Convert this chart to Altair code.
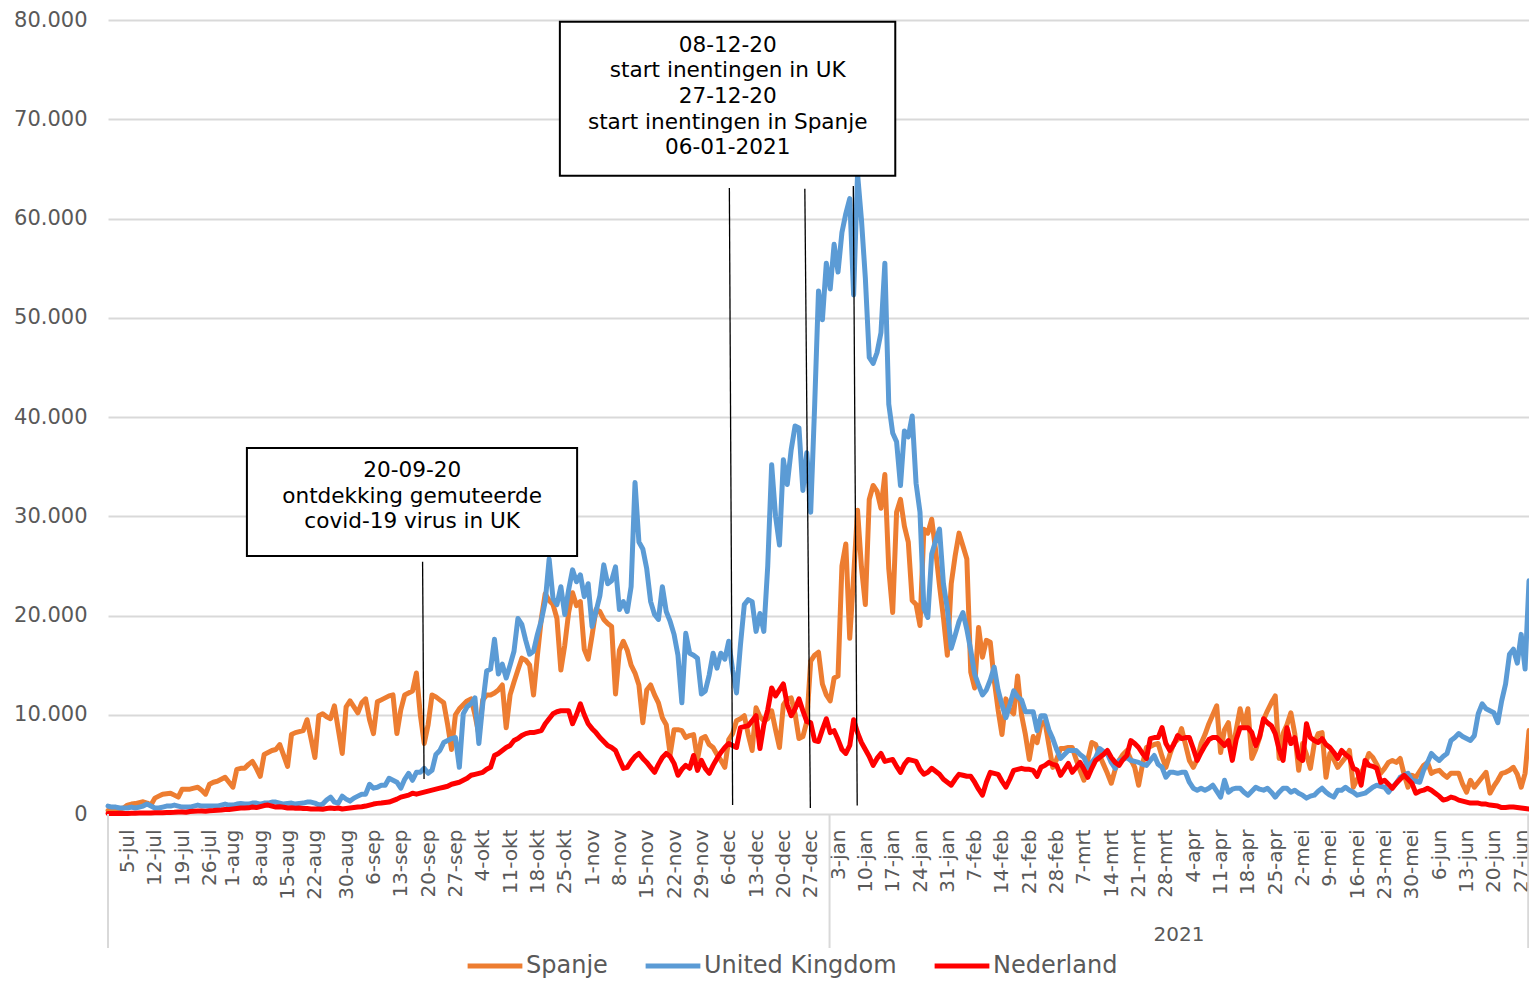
import altair as alt
import pandas as pd

# ---------------- data (daily new cases, in thousands) ----------------
START = "2020-06-30"

spain = [
    0.35, 0.4, 0.45, 0.5, 0.6, 0.9, 1.0, 1.05, 1.15, 1.23,
    1.1, 0.9, 1.6, 1.8, 2.0, 2.05, 2.1, 1.9, 1.7, 2.5,
    2.5, 2.5, 2.6, 2.7, 2.4, 2.0, 3.0, 3.2, 3.3, 3.5,
    3.7, 3.2, 2.7, 4.5, 4.6, 4.6, 5.0, 5.3, 4.6, 3.8,
    6.0, 6.2, 6.4, 6.5, 7.0, 5.9, 4.8, 8.0, 8.2, 8.3,
    8.4, 9.5, 7.6, 5.7, 9.9, 10.1, 9.8, 9.6, 10.9, 8.5,
    6.1, 10.8, 11.4, 10.8, 10.2, 11.2, 11.6, 9.5, 8.1, 11.3,
    11.5, 11.7, 11.9, 12.0, 8.1, 10.5, 12.0, 12.2, 12.4, 14.2,
    10.0, 7.1, 9.0, 12.0, 11.8, 11.5, 11.2, 9.0, 6.5, 10.0,
    10.6, 11.0, 11.4, 11.6, 10.0, 8.0, 11.5, 12.0, 12.0, 12.2,
    12.5, 13.0, 8.7, 12.0, 13.3, 14.5, 15.7, 15.5, 15.0, 12.0,
    16.0, 19.7, 22.2, 21.5, 21.1, 19.7, 14.5, 17.0, 20.3, 22.3,
    21.0, 21.4, 16.6, 15.6, 18.0, 20.6, 20.4, 19.6, 19.2, 18.9,
    12.1, 16.5, 17.4, 16.5, 15.0, 14.2, 13.0, 9.2, 12.5, 13.0,
    12.0, 11.2, 9.7, 9.0, 6.0, 8.5, 8.5, 8.4, 7.7, 7.9,
    8.0, 5.5, 7.6, 7.8, 7.0, 6.7, 6.0, 5.4, 4.7, 7.5,
    8.1, 9.4, 9.6, 9.9, 8.0, 6.4, 10.7, 9.8, 9.4, 9.6,
    10.4, 8.5, 6.7, 11.0, 11.6, 11.7, 10.1, 7.6, 7.8, 9.3,
    15.4, 16.0, 16.3, 13.1, 12.0, 11.4, 13.7, 13.9, 25.0, 27.2,
    17.7, 24.0, 30.6, 24.9, 21.1, 31.7, 33.1, 32.5, 30.8, 34.2,
    24.7, 20.3, 30.4, 31.7, 29.0, 27.4, 21.5, 21.1, 19.0, 28.7,
    28.3, 29.7, 26.6, 23.0, 19.8, 16.0, 23.2, 26.0, 28.3, 27.0,
    25.7, 14.3, 12.7, 18.8, 15.8, 17.5, 17.3, 13.5, 10.5, 8.0,
    11.6, 10.5, 10.1, 13.9, 10.0, 8.0, 5.5, 7.8, 7.2, 9.1,
    9.3, 7.0, 4.7, 5.5, 6.6, 6.6, 6.7, 6.7, 5.5, 4.4,
    3.4, 5.5, 7.2, 7.0, 5.9, 5.0, 4.1, 3.1, 4.5, 5.4,
    6.0, 6.4, 5.5, 4.7, 2.9, 5.0, 6.7, 6.8, 7.0, 7.1,
    5.8, 4.7, 6.0, 7.1, 7.5, 8.6, 7.0, 5.4, 4.7, 5.5,
    7.1, 8.0, 9.1, 10.0, 10.9, 6.2, 8.5, 9.2, 6.2, 8.5,
    10.6, 8.9, 10.6, 5.6, 6.5, 7.7, 9.5, 10.4, 11.2, 11.9,
    5.6, 8.1, 9.0, 10.2, 8.1, 4.4, 7.1, 6.0, 4.6, 7.1,
    8.1, 8.2, 3.7, 6.1, 5.5, 4.7, 5.2, 5.7, 6.4, 2.7,
    3.5, 4.1, 5.0, 6.1, 5.7, 5.0, 4.1, 4.6, 5.2, 5.4,
    5.2, 5.6, 4.0, 2.7, 3.9, 3.7, 4.3, 4.9, 5.2, 4.1,
    4.3, 4.4, 4.0, 3.7, 4.1, 4.1, 4.1, 3.0, 2.2, 3.4,
    2.7, 3.2, 3.7, 4.2, 2.1, 2.8, 3.4, 4.1, 4.2, 4.4,
    4.7, 4.0, 2.7, 4.1, 8.4,
]

uk = [
    0.8, 0.7, 0.7, 0.6, 0.6, 0.6, 0.7, 0.6, 0.7, 0.8,
    1.0, 0.8, 0.6, 0.6, 0.7, 0.8, 0.8, 0.9, 0.8, 0.7,
    0.7, 0.7, 0.8, 0.9, 0.8, 0.8, 0.8, 0.8, 0.8, 0.9,
    1.0, 0.9, 0.9, 1.0, 1.05, 1.0, 1.0, 1.1, 1.1, 1.0,
    1.1, 1.1, 1.2, 1.2, 1.1, 1.0, 1.07, 1.1, 1.0, 1.07,
    1.1, 1.2, 1.2, 1.1, 0.9, 1.0, 1.4, 1.7, 1.2, 1.1,
    1.8, 1.5, 1.3, 1.6, 1.8, 2.0, 2.0, 3.0, 2.6, 2.7,
    2.9, 2.9, 3.6, 3.4, 3.2, 2.6, 3.5, 4.1, 3.4, 4.2,
    4.2, 4.6, 4.1, 4.4, 6.0, 6.4, 7.2, 7.4, 7.6, 7.7,
    4.7, 10.1, 10.8, 11.1, 11.7, 7.1, 11.1, 14.4, 14.6, 17.6,
    14.1, 15.1, 13.7, 15.0, 16.4, 19.7, 19.1, 17.5, 16.1, 16.4,
    18.1, 19.5, 21.4, 25.7, 21.7, 21.1, 22.9, 20.1, 22.6, 24.6,
    23.4, 24.1, 21.9, 23.2, 18.9, 20.4, 22.0, 25.1, 23.2, 23.5,
    24.9, 20.6, 21.4, 20.4, 22.9, 33.4, 27.4, 26.7, 24.7, 21.4,
    20.1, 19.6, 22.9, 20.4, 19.4, 18.1, 16.0, 11.2, 18.2, 16.2,
    16.0, 15.7, 12.1, 12.4, 14.0, 16.2, 14.7, 16.2, 15.6, 17.4,
    14.5, 12.2, 17.0, 21.1, 21.6, 21.4, 18.4, 20.2, 18.4, 25.0,
    35.2, 30.0, 27.1, 35.7, 33.2, 36.7, 39.1, 38.9, 32.6, 36.4,
    30.4, 41.0, 52.7, 49.8, 55.5, 52.9, 57.4, 54.6, 58.6, 60.5,
    62.0, 52.3, 64.5, 59.9, 54.0, 46.0, 45.4, 46.5, 48.5, 55.5,
    41.3, 38.4, 37.5, 33.1, 38.6, 38.0, 40.1, 33.3, 30.4, 20.7,
    19.8, 26.2, 27.5, 28.7, 23.2, 20.7, 16.7, 18.0, 19.4, 20.3,
    18.6, 16.5, 14.1, 13.0, 12.0, 12.5, 13.5, 14.8, 12.5, 11.0,
    9.7, 11.0, 12.4, 11.8, 11.5, 10.3, 10.3, 10.3, 8.4, 9.9,
    9.9, 8.5, 7.6, 6.5, 5.6, 6.0, 6.4, 6.4, 6.4, 6.0,
    5.7, 4.7, 5.2, 5.7, 6.6, 6.3, 6.1, 5.2, 4.6, 5.4,
    5.5, 5.7, 5.4, 5.3, 5.2, 5.0, 4.9, 5.4, 5.9, 5.0,
    4.7, 3.7, 4.2, 4.2, 4.1, 4.2, 4.2, 3.2, 2.6, 2.4,
    2.6, 2.4, 2.6, 2.9, 2.3, 1.7, 3.4, 2.2, 2.5, 2.6,
    2.6, 2.2, 1.9, 2.3, 2.7, 2.5, 2.4, 2.6, 2.2, 1.7,
    2.2, 2.6, 2.6, 2.2, 2.4, 2.1, 1.9, 1.6, 1.8, 1.9,
    2.3, 2.6, 2.2, 1.9, 1.7, 2.4, 2.4, 2.7, 2.4, 2.2,
    1.9, 2.0, 2.1, 2.4, 2.7, 2.9, 2.8, 2.7, 2.2, 2.7,
    3.1, 3.7, 3.9, 4.1, 3.4, 3.3, 3.2, 4.4, 5.2, 6.1,
    5.7, 5.4, 5.8, 6.1, 7.4, 7.7, 8.1, 7.8, 7.6, 7.4,
    7.9, 10.1, 11.1, 10.6, 10.4, 10.2, 9.2, 11.4, 13.1, 16.1,
    16.6, 15.2, 18.1, 14.6, 23.5,
]

nl = [
    0.06, 0.05, 0.06, 0.07, 0.06, 0.06, 0.07, 0.08, 0.09, 0.1,
    0.1, 0.1, 0.12, 0.13, 0.13, 0.15, 0.16, 0.17, 0.2, 0.2,
    0.18, 0.25, 0.28, 0.3, 0.3, 0.28, 0.33, 0.35, 0.38, 0.4,
    0.45, 0.45, 0.5, 0.55, 0.6, 0.6, 0.62, 0.7, 0.65, 0.75,
    0.85, 0.9, 0.8, 0.7, 0.72, 0.68, 0.6, 0.62, 0.58, 0.6,
    0.55, 0.55, 0.5, 0.5, 0.5, 0.48, 0.55, 0.6, 0.55, 0.6,
    0.5, 0.55, 0.6, 0.65, 0.7, 0.73, 0.8, 0.9, 1.0, 1.07,
    1.1, 1.15, 1.2, 1.35, 1.5, 1.7, 1.8, 1.9, 2.1, 2.0,
    2.1, 2.2, 2.3, 2.4, 2.5, 2.6, 2.7, 2.8, 3.0, 3.1,
    3.2, 3.4, 3.6, 3.9, 4.0, 4.1, 4.2, 4.5, 4.7, 5.9,
    6.1, 6.4, 6.7, 6.9, 7.4, 7.6, 7.9, 8.1, 8.2, 8.2,
    8.3, 8.4, 9.1, 9.6, 10.1, 10.3, 10.4, 10.4, 10.4, 9.1,
    10.0, 11.1, 10.0, 9.1, 8.6, 8.2, 7.7, 7.3, 6.9, 6.7,
    6.4, 5.5, 4.6, 4.7, 5.3, 5.8, 6.1, 5.6, 5.2, 4.7,
    4.2, 5.0, 5.7, 6.1, 5.8, 5.1, 3.9, 4.5, 4.9, 4.6,
    5.9, 4.4, 5.4, 4.6, 4.1, 4.9, 5.6, 6.2, 6.7, 7.1,
    6.9, 6.7, 8.7, 8.8, 8.9, 9.4, 9.9, 6.6, 9.0, 10.5,
    12.7, 11.9, 12.5, 13.1, 11.0, 9.9, 10.6, 11.6, 10.4, 9.3,
    9.2, 7.4, 7.3, 8.5, 9.6, 8.2, 8.4, 7.5, 6.5, 6.1,
    6.9, 9.5, 8.2, 7.2, 6.5, 5.8, 4.9, 5.6, 6.1, 5.3,
    5.4, 5.5, 4.8, 4.2, 5.0, 5.5, 5.4, 5.3, 4.5, 4.0,
    4.2, 4.6, 4.3, 4.0, 3.5, 3.2, 2.9, 3.5, 4.0, 3.9,
    3.8, 3.8, 3.2, 2.5, 1.9, 3.2, 4.2, 4.1, 4.0, 3.3,
    2.7, 3.5, 4.4, 4.5, 4.6, 4.5, 4.5, 4.4, 3.8, 4.7,
    4.9, 5.2, 5.0, 4.9, 3.9, 4.5, 5.1, 4.2, 4.7, 5.2,
    4.5, 3.7, 4.6, 5.4, 5.7, 6.0, 6.4, 5.7, 5.2, 4.9,
    5.5, 5.9, 7.4, 7.1, 6.7, 6.1, 5.6, 7.6, 7.7, 7.7,
    8.7, 7.1, 6.4, 7.0, 7.9, 7.6, 7.7, 7.7, 6.6, 5.4,
    6.2, 6.9, 7.5, 7.7, 7.7, 7.3, 6.9, 7.4, 5.4, 7.5,
    8.7, 8.7, 8.7, 8.2, 6.9, 7.8, 9.6, 9.2, 8.9, 8.1,
    6.5, 5.4, 8.7, 7.1, 7.7, 5.7, 5.4, 9.1, 7.7, 7.4,
    7.2, 7.6, 7.0, 6.7, 6.2, 5.6, 6.4, 6.0, 5.7, 4.6,
    4.4, 2.9, 5.4, 4.9, 4.8, 4.6, 3.2, 3.4, 3.0, 2.6,
    3.1, 3.5, 3.9, 3.5, 3.1, 2.1, 2.3, 2.4, 2.6, 2.4,
    2.1, 1.8, 1.4, 1.5, 1.7, 1.6, 1.4, 1.3, 1.2, 1.1,
    1.1, 1.1, 1.0, 1.0, 0.9, 0.85, 0.8, 0.65, 0.65, 0.7,
    0.7, 0.65, 0.6, 0.55, 0.5,
]

series_names = ["Spanje", "United Kingdom", "Nederland"]
series_colors = ["#ED7D31", "#5B9BD5", "#FF0000"]

tick_dates = [
    "2020-07-05", "2020-07-12", "2020-07-19", "2020-07-26", "2020-08-01",
    "2020-08-08", "2020-08-15", "2020-08-22", "2020-08-30", "2020-09-06",
    "2020-09-13", "2020-09-20", "2020-09-27", "2020-10-04", "2020-10-11",
    "2020-10-18", "2020-10-25", "2020-11-01", "2020-11-08", "2020-11-15",
    "2020-11-22", "2020-11-29", "2020-12-06", "2020-12-13", "2020-12-20",
    "2020-12-27", "2021-01-03", "2021-01-10", "2021-01-17", "2021-01-24",
    "2021-01-31", "2021-02-07", "2021-02-14", "2021-02-21", "2021-02-28",
    "2021-03-07", "2021-03-14", "2021-03-21", "2021-03-28", "2021-04-04",
    "2021-04-11", "2021-04-18", "2021-04-25", "2021-05-02", "2021-05-09",
    "2021-05-16", "2021-05-23", "2021-05-30", "2021-06-06", "2021-06-13",
    "2021-06-20", "2021-06-27",
]
month_abbr = ["jan", "feb", "mrt", "apr", "mei", "jun",
              "jul", "aug", "sep", "okt", "nov", "dec"]
y_ticks = [0, 10000, 20000, 30000, 40000, 50000, 60000, 70000, 80000]

# annotation boxes (data coordinates)
box_x = ["2020-08-04T14:00:00Z", "2020-10-23T18:00:00Z"]
box_x2 = ["2020-10-28T04:00:00Z", "2021-01-17T16:00:00Z"]
box_y = [36880, 79830]
box_y2 = [26000, 64310]
box_tx = ["2020-09-15T22:00:00Z", "2020-12-05T18:00:00Z"]
box_ty = [34560, 77410]
box_text = [
    "20-09-20\nontdekking gemuteerde\ncovid-19 virus in UK",
    "08-12-20\nstart inentingen in UK\n27-12-20\nstart inentingen in Spanje\n06-01-2021",
]
# pointer lines
ptr_x = ["2020-09-18T14:00:00Z", "2020-12-06T04:00:00Z", "2020-12-25T12:00:00Z", "2021-01-06T22:00:00Z"]
ptr_x2 = ["2020-09-18T23:00:00Z", "2020-12-07T00:00:00Z", "2020-12-26T22:00:00Z", "2021-01-07T22:00:00Z"]
ptr_y = [25420, 63070, 63000, 63270]
ptr_y2 = [3530, 910, 600, 850]

# year grouping of the category axis
year_sep = ["2020-06-30T00:00:00Z", "2020-12-31T20:00:00Z", "2021-06-28T19:00:00Z"]
year_label = ["2021"]
year_label_x = ["2021-03-31T08:00:00Z"]

# ---------------- build tables ----------------
dates = pd.date_range(START, periods=len(spain), freq="D").strftime("%Y-%m-%d")
rows = []
for name, vals in zip(series_names, [spain, uk, nl]):
    for dt_, v in zip(dates, vals):
        rows.append({"date": dt_, "land": name, "cases": round(v * 1000)})
df = pd.DataFrame(rows)

boxes = pd.DataFrame({"x": box_x, "x2": box_x2, "y": box_y, "y2": box_y2,
                      "tx": box_tx, "ty": box_ty, "text": box_text})
ptrs = pd.DataFrame({"x": ptr_x, "x2": ptr_x2, "y": ptr_y, "y2": ptr_y2})
seps = pd.DataFrame({"x": year_sep})
ylab = pd.DataFrame({"x": year_label_x, "label": year_label})


def dt(s, utc=True):
    y, m, d = s[:10].split("-")
    return alt.DateTime(year=int(y), month=int(m), date=int(d), utc=utc)


FONT = "DejaVu Sans"
GREY = "#595959"
PLOT_H = 794

x_scale = alt.Scale(type="utc", domain=[dt("2020-06-30"), dt("2021-06-29")])
y_scale = alt.Scale(domain=[0, 80000])

month_js = "[" + ",".join("'%s'" % m for m in month_abbr) + "]"

x_axis = alt.Axis(
    values=[dt(s) for s in tick_dates],
    labelExpr="utcdate(datum.value) + '-' + " + month_js + "[utcmonth(datum.value)]",
    labelAngle=270, labelFontSize=20, labelColor=GREY, labelFont=FONT,
    labelPadding=15, ticks=False, tickSize=0, domain=False, grid=False, title=None,
    labelOverlap=False, labelSeparation=0, labelBound=False, labelFlush=False,
)
y_axis = alt.Axis(
    values=y_ticks,
    labelExpr="replace(format(datum.value, ','), ',', '.')",
    labelFontSize=21, labelColor=GREY, labelFont=FONT, labelPadding=21,
    ticks=False, tickSize=0, domain=False, gridColor="#d9d9d9", gridWidth=2, title=None,
    labelOverlap=False,
)


def X(field):
    return alt.X(field, scale=x_scale, axis=x_axis)


def Y(field):
    return alt.Y(field, scale=y_scale, axis=y_axis)


lines = alt.Chart(df).mark_line(strokeWidth=5, strokeJoin="round", strokeCap="round").encode(
    x=X("date:T"),
    y=Y("cases:Q"),
    color=alt.Color(
        "land:N",
        sort=series_names,
        scale=alt.Scale(domain=series_names, range=series_colors),
        legend=alt.Legend(
            orient="none", legendX=357, legendY=916, direction="horizontal",
            title=None, symbolType="stroke", symbolStrokeWidth=5, symbolSize=3000,
            labelFontSize=24, labelColor=GREY, labelFont=FONT, labelLimit=500,
            columnPadding=27, labelOffset=1, padding=0,
        ),
    ),
)

pointers = alt.Chart(ptrs).mark_rule(color="black", strokeWidth=1.3).encode(
    x=X("x:T"), x2="x2:T", y=Y("y:Q"), y2="y2:Q",
)

box_rects = alt.Chart(boxes).mark_rect(fill="white", stroke="black", strokeWidth=2).encode(
    x=X("x:T"), x2="x2:T", y=Y("y:Q"), y2="y2:Q",
)

box_texts = alt.Chart(boxes).mark_text(
    lineBreak="\n", font=FONT, fontSize=21.6, color="black",
    align="center", baseline="middle", lineHeight=25.6,
).encode(
    x=X("tx:T"), y=Y("ty:Q"), text="text:N",
)

sep_rules = alt.Chart(seps).mark_rule(color="#d9d9d9", strokeWidth=2).encode(
    x=X("x:T"),
    y=alt.value(PLOT_H),
    y2=alt.value(928),
)

year_text = alt.Chart(ylab).mark_text(
    font=FONT, fontSize=20, color=GREY, align="center", baseline="middle",
).encode(
    x=X("x:T"),
    y=alt.value(915),
    text="label:N",
)

chart = alt.layer(lines, sep_rules, year_text, pointers, box_rects, box_texts).properties(
    width=1421,
    height=PLOT_H,
    autosize=alt.AutoSizeParams(type="none"),
    padding={"left": 100, "top": 12, "right": 0, "bottom": 167},
).configure(font=FONT).configure_view(stroke=None).configure_axisX(
    labelOverlap=False, labelSeparation=0
)

chart.save("out.html", embed_options={"renderer": "svg", "actions": False})
